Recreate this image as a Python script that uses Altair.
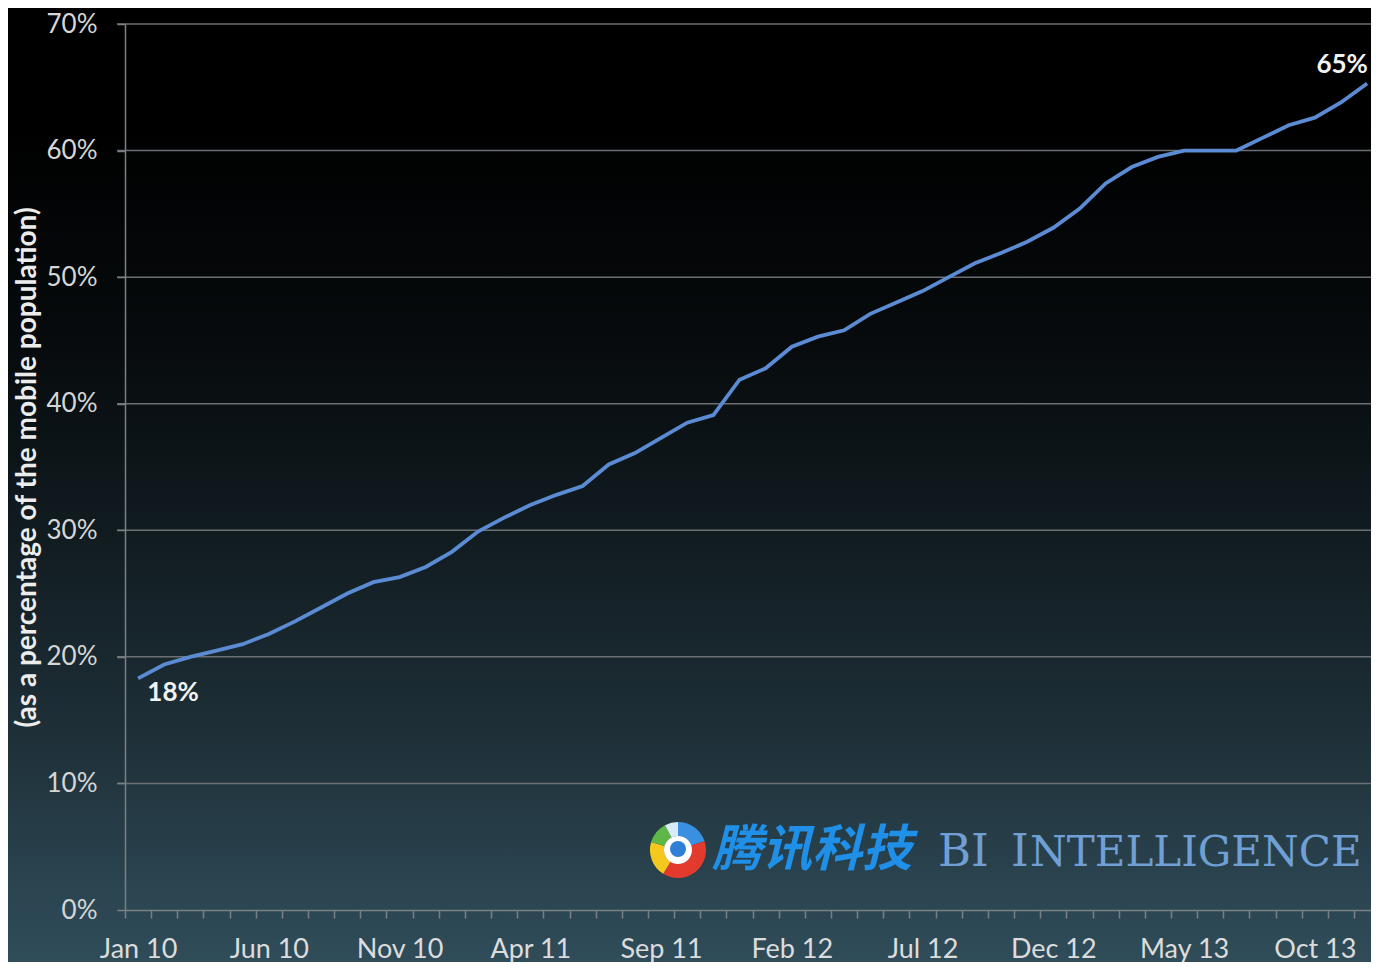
import altair as alt
import pandas as pd

month_abbr = ["Jan", "Feb", "Mar", "Apr", "May", "Jun", "Jul", "Aug", "Sep", "Oct", "Nov", "Dec"]
years = ["10", "11", "12", "13"]
months = [f"{m} {y}" for y in years for m in month_abbr]
shown_labels = ["Jan 10", "Jun 10", "Nov 10", "Apr 11", "Sep 11", "Feb 12", "Jul 12", "Dec 12", "May 13", "Oct 13"]

values = [18.3, 19.4, 20.0, 20.5, 21.0, 21.8, 22.8, 23.9, 25.0, 25.9, 26.3, 27.1,
          28.3, 29.9, 31.0, 32.0, 32.8, 33.5, 35.2, 36.1, 37.3, 38.5, 39.1, 41.9,
          42.8, 44.5, 45.3, 45.8, 47.1, 48.0, 48.9, 50.0, 51.1, 51.9, 52.8, 53.9,
          55.4, 57.4, 58.7, 59.5, 60.0, 60.0, 60.0, 61.0, 62.0, 62.6, 63.8, 65.3]

y_ticks = [0, 10, 20, 30, 40, 50, 60, 70]
end_labels = ["18%", "65%"]
axis_title = "(as a percentage of the mobile population)"

df = pd.DataFrame({"month": months, "value": values})
df["label"] = ""
df.loc[0, "label"] = end_labels[0]
df.loc[len(df) - 1, "label"] = end_labels[1]
grid_df = pd.DataFrame({"tick": y_ticks[1:]})

W, H = 1246, 886
STEP = 26.15
AX = "#7a8084"

one = alt.Data(values=[{"k": 1}])

bg = alt.Chart(one).mark_rect(
    color=alt.Gradient(
        gradient="linear", x1=0, x2=0, y1=0, y2=1,
        stops=[
            alt.GradientStop(color="#000000", offset=0),
            alt.GradientStop(color="#000000", offset=0.12),
            alt.GradientStop(color="#070b0d", offset=0.35),
            alt.GradientStop(color="#111c21", offset=0.55),
            alt.GradientStop(color="#1e2f37", offset=0.75),
            alt.GradientStop(color="#2b4551", offset=0.92),
            alt.GradientStop(color="#304d5a", offset=1.0),
        ],
    )
).encode(x=alt.value(-117), x2=alt.value(W + 20), y=alt.value(-16), y2=alt.value(H + 60))

y_scale = alt.Scale(domain=[0, 70], nice=False, zero=True)

grid = alt.Chart(grid_df).mark_rule(color="#6c7074", strokeWidth=1.5).encode(
    y=alt.Y("tick:Q", scale=y_scale), x=alt.value(-8), x2=alt.value(W)
)

x_enc = alt.X(
    "month:O", sort=months,
    scale=alt.Scale(range=[0, STEP * 48], paddingInner=0, paddingOuter=0),
    axis=alt.Axis(
        title=None, labelAngle=0, tickBand="extent", labelOverlap=False,
        labelExpr="indexof(" + str(shown_labels) + ", datum.label) >= 0 ? datum.label : ''",
        labelFont="Lato", labelFontSize=27, labelColor="#dcdcdc", labelPadding=18,
        labelBaseline="top",
        domainColor=AX, domainWidth=1.5, tickColor=AX, tickWidth=1.5, tickSize=8,
        grid=False, zindex=1,
    ),
)

y_enc = alt.Y(
    "value:Q",
    scale=y_scale,
    axis=alt.Axis(
        values=y_ticks, labelExpr="datum.value + '%'",
        labelFont="Lato", labelFontSize=26, labelColor="#d6d6d6", labelPadding=20,
        domainColor=AX, domainWidth=1.5, tickColor=AX, tickWidth=1.5, tickSize=8,
        grid=False, zindex=1,
        title=axis_title, titleFont="Lato", titleFontSize=28, titleFontWeight="bold",
        titleColor="#ececec", titleAngle=-90, titleX=-98, titleY=H / 2,
        titleAlign="center", titleBaseline="middle",
    ),
)

line = alt.Chart(df).mark_line(color="#5b8bd3", strokeWidth=3.8).encode(x=x_enc, y=y_enc)

first_lbl = alt.Chart(df.iloc[[0]]).mark_text(
    font="Lato", fontSize=26, fontWeight="bold", color="#f2f2f2", dx=35, dy=15
).encode(x=alt.X("month:O", sort=months), y="value:Q", text="label:N")

last_lbl = alt.Chart(df.iloc[[-1]]).mark_text(
    font="Lato", fontSize=26, fontWeight="bold", color="#f2f2f2", dx=-25, dy=-18
).encode(x=alt.X("month:O", sort=months), y="value:Q", text="label:N")

# watermark logo
cx, cy = 553, 826
logo_parts = [
    alt.Chart(one).mark_arc(theta=0, theta2=1.25, radius=28, radius2=14, color="#3a8fe0").encode(x=alt.value(cx), y=alt.value(cy)),
    alt.Chart(one).mark_arc(theta=1.25, theta2=3.7, radius=28, radius2=14, color="#e23a2c").encode(x=alt.value(cx), y=alt.value(cy)),
    alt.Chart(one).mark_arc(theta=3.7, theta2=5.0, radius=28, radius2=14, color="#f4c81c").encode(x=alt.value(cx), y=alt.value(cy)),
    alt.Chart(one).mark_arc(theta=5.0, theta2=5.8, radius=28, radius2=14, color="#5db847").encode(x=alt.value(cx), y=alt.value(cy)),
    alt.Chart(one).mark_arc(theta=5.8, theta2=6.2832, radius=28, radius2=14, color="#d8ecf8").encode(x=alt.value(cx), y=alt.value(cy)),
    alt.Chart(one).mark_arc(theta=0, theta2=6.2832, radius=14, color="#ffffff").encode(x=alt.value(cx), y=alt.value(cy)),
    alt.Chart(one).mark_arc(theta=0, theta2=6.2832, radius=8, color="#2f7fd6").encode(x=alt.value(cx), y=alt.value(cy - 1)),
]

cn_text = alt.Chart(one).mark_text(
    text="腾讯科技", font="Noto Sans CJK SC", fontSize=50, fontWeight="bold", fontStyle="italic",
    color="#1f8fe8", align="left", baseline="middle"
).encode(x=alt.value(587), y=alt.value(827))

bi_text = alt.Chart(one).mark_text(
    text="BI", font="DejaVu Serif", fontSize=45, color="#6f9fd4", align="left", baseline="alphabetic"
).encode(x=alt.value(813), y=alt.value(842))
i_text = alt.Chart(one).mark_text(
    text="I", font="DejaVu Serif", fontSize=45, color="#6f9fd4", align="left", baseline="alphabetic"
).encode(x=alt.value(886), y=alt.value(842))
ntel_text = alt.Chart(one).mark_text(
    text="NTELLIGENCE", font="DejaVu Serif", fontSize=42, color="#6f9fd4", align="left", baseline="alphabetic"
).encode(x=alt.value(905), y=alt.value(842))

chart = alt.layer(
    bg, grid, line, first_lbl, last_lbl, *logo_parts, cn_text, bi_text, i_text, ntel_text
).properties(
    width=W, height=H,
    autosize=alt.AutoSizeParams(type="none"),
    padding={"left": 117, "top": 16, "right": 0, "bottom": 52},
).configure(background="#000000").configure_view(stroke=None)

chart.save("out.html", embed_options={"renderer": "svg", "actions": False})
